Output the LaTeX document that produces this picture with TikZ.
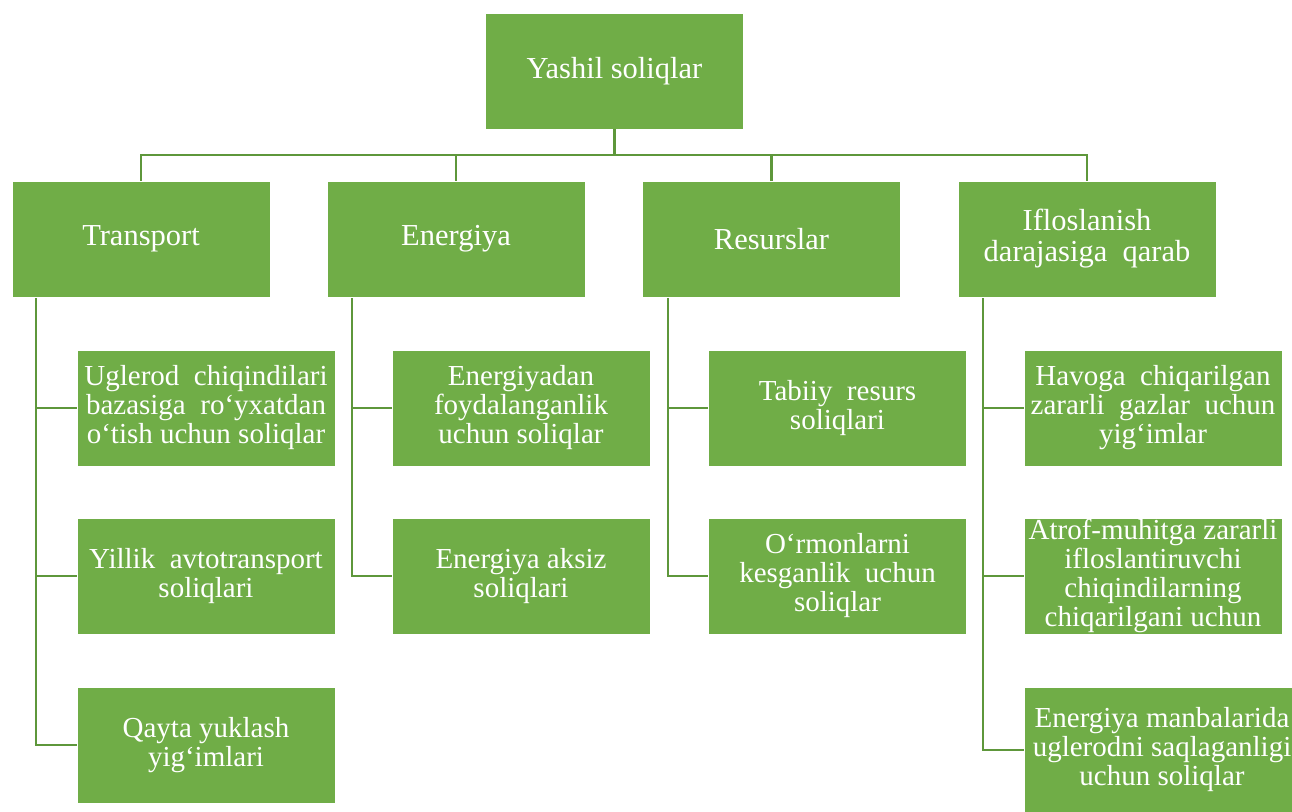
\documentclass[tikz,border=0pt]{standalone}
\usepackage{fontspec}
\setmainfont{Liberation Serif}
\definecolor{boxgreen}{HTML}{70AD47}
\definecolor{linegreen}{HTML}{5E973B}
\begin{document}
\begin{tikzpicture}[x=1pt,y=-1pt,
  box/.style={fill=boxgreen, draw=white, line width=0.8pt, text=white, align=center,
    inner sep=0pt, minimum width=258pt, minimum height=116pt,
    font=\fontsize{29}{29}\selectfont},
  topbox/.style={box, font=\fontsize{30.5}{31}\selectfont},
  conn/.style={draw=linegreen, line width=2.6pt}]
\clip (0,0) rectangle (1292,811);
\fill[white] (0,0) rectangle (1292,811);
% root
\node[topbox] (root) at (614.5,71) {Yashil soliqlar};
% level 1
\node[topbox] (T) at (141,239) {Transport};
\node[topbox] (E) at (456,239) {Energiya};
\node[topbox] (R) at (771.5,239) {Resurslar};
\node[topbox] (I) at (1087,239) {Ifloslanish\\darajasiga\ \ qarab};
% level 2 transport
\node[box] (T1) at (206,408) {Uglerod\ \ chiqindilari\\bazasiga\ \ ro‘yxatdan\\o‘tish uchun soliqlar};
\node[box] (T2) at (206,576) {Yillik\ \ avtotransport\\soliqlari};
\node[box] (T3) at (206,745) {Qayta yuklash\\yig‘imlari};
% energiya
\node[box] (E1) at (521,408) {Energiyadan\\foydalanganlik\\uchun soliqlar};
\node[box] (E2) at (521,576) {Energiya aksiz\\soliqlari};
% resurslar
\node[box] (R1) at (837.5,408) {Tabiiy\ \ resurs\\soliqlari};
\node[box] (R2) at (837.5,576) {O‘rmonlarni\\kesganlik\ \ uchun\\soliqlar};
% ifloslanish
\node[box] (I1) at (1153,408) {Havoga\ \ chiqarilgan\\zararli\ \ gazlar\ \ uchun\\yig‘imlar};
\node[box] (I2) at (1153,576) {Atrof-muhitga zararli\\ifloslantiruvchi\\chiqindilarning\\chiqarilgani uchun};
\node[box, minimum width=276pt, minimum height=126pt] (I3) at (1162,750) {Energiya manbalarida\\uglerodni saqlaganligi\\uchun soliqlar};
% top connectors
\coordinate (bus) at (614.5,155);
\draw[conn] (root.south) -- (bus);
\draw[conn] (T.north) -- (T.north |- bus) -- (I.north |- bus) -- (I.north);
\draw[conn] (E.north) -- (E.north |- bus);
\draw[conn] (R.north) -- (R.north |- bus);
% spines
\coordinate (Ts) at (36,298);
\coordinate (Es) at (352,298);
\coordinate (Rs) at (668,298);
\coordinate (Is) at (983,298);
\draw[conn] (Ts) |- (T3.west);
\draw[conn] (Ts |- T1.west) -- (T1.west);
\draw[conn] (Ts |- T2.west) -- (T2.west);
\draw[conn] (Es) |- (E2.west);
\draw[conn] (Es |- E1.west) -- (E1.west);
\draw[conn] (Rs) |- (R2.west);
\draw[conn] (Rs |- R1.west) -- (R1.west);
\draw[conn] (Is) |- (I3.west);
\draw[conn] (Is |- I1.west) -- (I1.west);
\draw[conn] (Is |- I2.west) -- (I2.west);
\end{tikzpicture}
\end{document}
